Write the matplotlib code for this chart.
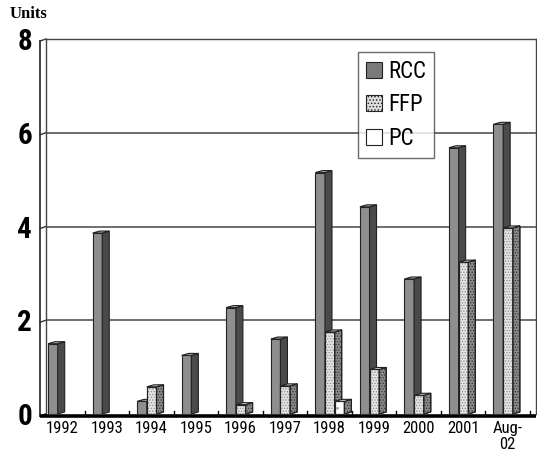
import matplotlib
matplotlib.use("Agg")
import matplotlib.pyplot as plt
from matplotlib.patches import Polygon, Patch

plt.rcParams['font.family'] = ['Roboto Condensed', 'Archivo Narrow', 'DejaVu Sans']
plt.rcParams['hatch.linewidth'] = 0.6

years = ['1992', '1993', '1994', '1995', '1996', '1997', '1998', '1999',
         '2000', '2001', 'Aug-\n02']
rcc = [1.5, 3.86, 0.27, 1.25, 2.27, 1.6, 5.15, 4.42, 2.88, 5.68, 6.18]
ffp = [0, 0, 0.58, 0, 0.2, 0.6, 1.75, 0.95, 0.4, 3.24, 3.97]
pc = [0, 0, 0, 0, 0, 0, 0.27, 0, 0, 0, 0]

W, H = 537, 453
fig = plt.figure(figsize=(W / 100, H / 100), dpi=100)
ax = fig.add_axes([46 / W, 39 / H, 490 / W, 375 / H])
ax.set_xlim(0, len(years))
ax.set_ylim(0, 8)

# 3D look: depth offsets in data units (about 7 px across, 2 px up)
dx = 7 / 44.55
dy = 2 / 46.9
fx = 6 / 44.55     # front plane sits this far left of the back wall
fy = 2 / 46.9
bw = 0.218


def bar3d(x, v, front, side, top, hatch_front=None, hatch_side=None):
    faces = [
        ([(x, 0), (x + bw, 0), (x + bw, v), (x, v)], front, hatch_front),
        ([(x + bw, 0), (x + bw + dx, dy), (x + bw + dx, v + dy), (x + bw, v)], side, hatch_side),
        ([(x, v), (x + bw, v), (x + bw + dx, v + dy), (x + dx, v + dy)], top, None),
    ]
    for pts, fc, h in faces:
        ax.add_patch(Polygon(pts, closed=True, facecolor=fc, edgecolor='#222222',
                             linewidth=0.8, zorder=3))
        if h:
            ax.add_patch(Polygon(pts, closed=True, facecolor='none', edgecolor=h[1],
                                 hatch=h[0], linewidth=0, zorder=3))
            ax.add_patch(Polygon(pts, closed=True, facecolor='none', edgecolor='#222222',
                                 linewidth=0.8, zorder=3))


for i in range(len(years)):
    x0 = i + 0.045
    if rcc[i] > 0:
        bar3d(x0, rcc[i], '#8e8e8e', '#4a4a4a', '#b0b0b0')
    if ffp[i] > 0:
        bar3d(x0 + bw, ffp[i], '#e4e4e4', '#8a8a8a', '#cccccc',
              hatch_front=('......', '#8a8a8a'), hatch_side=('......', '#333333'))
    if pc[i] > 0:
        bar3d(x0 + 2 * bw, pc[i], '#ffffff', '#8a8a8a', '#e0e0e0',
              hatch_front=('..', '#999999'), hatch_side=('......', '#333333'))

# back wall gridlines, continued onto the left side wall
for g in [2, 4, 6, 8]:
    ax.plot([0, len(years)], [g, g], color='#555555', lw=1.2, zorder=1)
    ax.plot([-fx, 0], [g - fy, g], color='#333333', lw=1.0, clip_on=False, zorder=1)

# left side wall
ax.plot([-fx, -fx], [-fy, 8 - fy], color='#222222', lw=1.2, clip_on=False)
ax.plot([-fx, 0], [-fy, 0], color='#222222', lw=1.2, clip_on=False)

# floor edge
ax.plot([-fx, len(years)], [-fy, -fy], color='black', lw=2.6, clip_on=False,
        solid_capstyle='butt', zorder=4)

for s in ['top', 'right', 'left']:
    ax.spines[s].set_color('#444444')
    ax.spines[s].set_linewidth(1.0)
ax.spines['bottom'].set_visible(False)

ax.set_yticks([0, 2, 4, 6, 8])
ax.set_yticklabels(['0', '2', '4', '6', '8'], fontsize=21, fontweight='bold')
ax.tick_params(axis='y', length=0, pad=10)

ax.set_xticks([i + 0.5 - fx for i in range(len(years))])
ax.set_xticklabels(years, fontsize=12, linespacing=1.1, va='top')
ax.tick_params(axis='x', length=0, pad=5)
for k in range(1, len(years) + 1):
    ax.plot([k - fx, k - fx], [-fy, -fy + 0.1], color='black', lw=1.0,
            clip_on=False, zorder=4)

handles = [Patch(facecolor='#7a7a7a', edgecolor='#222222', linewidth=0.8),
           Patch(facecolor='#dddddd', edgecolor='#222222', linewidth=0.8, hatch='.....'),
           Patch(facecolor='white', edgecolor='#222222', linewidth=0.8)]
leg = ax.legend(handles, ['RCC', 'FFP', 'PC'], loc='upper left',
                bbox_to_anchor=((358 - 46) / 490, (414 - 52) / 375),
                fontsize=16.5, frameon=True, fancybox=False,
                edgecolor='#444444', handlelength=0.7, handleheight=0.7,
                handletextpad=0.25, borderpad=0.35, labelspacing=0.45, borderaxespad=0)
leg.get_frame().set_linewidth(1.0)
leg.set_zorder(5)

fig.text(10 / W, 1 - 14 / H, 'Units', fontsize=12, fontweight='bold',
         family=['Liberation Serif', 'DejaVu Serif'], va='center', ha='left')

fig.savefig('out.png', dpi=100)
